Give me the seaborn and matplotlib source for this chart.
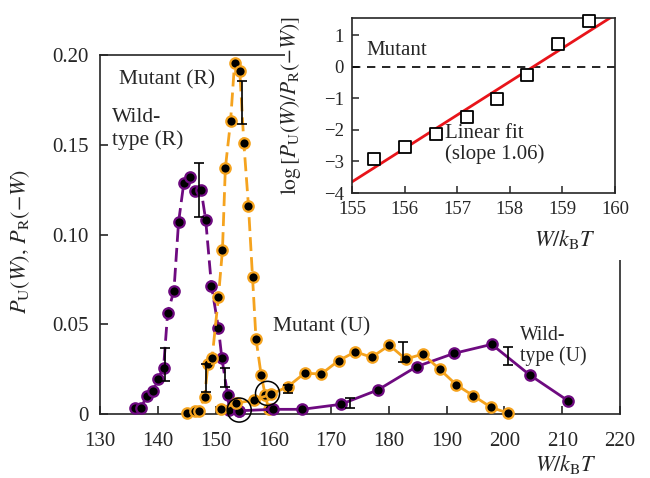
import numpy as np
import pandas as pd
import matplotlib
matplotlib.use("Agg")
import matplotlib.pyplot as plt
from matplotlib.patches import Rectangle
import seaborn as sns

# ---------------- data ----------------
wt_r_x = [136.1, 137.1, 138.1, 139.2, 140.0, 141.0, 141.7, 142.8, 143.6, 144.5, 145.6,
          146.5, 147.5, 148.3, 149.3, 150.5, 151.1, 152.1, 152.4, 154.1]
wt_r_y = [0.0032, 0.0032, 0.0102, 0.013, 0.0195, 0.0255, 0.056, 0.0687, 0.1068, 0.1285, 0.132,
          0.1242, 0.125, 0.108, 0.0713, 0.048, 0.031, 0.0105, 0.0022, 0.0018]

mut_r_x = [145.1, 146.5, 147.1, 148.1, 148.7, 149.4, 150.5, 151.2, 151.7, 152.6, 153.3,
           154.2, 154.9, 155.7, 156.4, 157.0, 157.9, 158.6, 159.2]
mut_r_y = [0.0004, 0.0017, 0.0017, 0.0093, 0.028, 0.031, 0.065, 0.0914, 0.137, 0.163, 0.1957,
           0.191, 0.151, 0.116, 0.0765, 0.042, 0.0217, 0.0106, 0.0026]

mut_u_x = [150.9, 153.5, 156.7, 159.6, 162.5, 165.4, 168.3, 171.3, 174.2, 177.0, 180.1,
           182.9, 185.9, 188.8, 191.7, 194.6, 197.7, 200.7]
mut_u_y = [0.0026, 0.006, 0.0078, 0.011, 0.0152, 0.0227, 0.0223, 0.0297, 0.0347, 0.0316, 0.0383,
           0.0306, 0.0334, 0.0249, 0.0162, 0.0102, 0.0037, 0.0004]

wt_u_x = [154.1, 159.9, 165.0, 171.7, 178.1, 184.8, 191.3, 197.8, 204.4, 211.0]
wt_u_y = [0.0018, 0.0026, 0.0026, 0.0054, 0.0134, 0.0264, 0.0338, 0.0388, 0.0217, 0.0074]

err_x = [141.2, 147.1, 148.4, 151.6, 154.5, 162.6, 173.2, 182.4, 200.6]
err_lo = [0.0186, 0.110, 0.0124, 0.0152, 0.1616, 0.0115, 0.0035, 0.0291, 0.0272]
err_hi = [0.0366, 0.140, 0.0279, 0.0255, 0.1857, 0.0162, 0.0091, 0.0403, 0.0375]

circle_x = [154.1, 159.0]
circle_y = [0.0022, 0.0115]

inset_x = [155.41, 156.0, 156.59, 157.18, 157.75, 158.33, 158.92, 159.51]
inset_y = [-2.93, -2.54, -2.12, -1.59, -1.01, -0.25, 0.74, 1.45]
fit_slope = 1.06
fit_x0 = 158.44
fit_range = [155.0, 160.0]

main_xticks = [130, 140, 150, 160, 170, 180, 190, 200, 210, 220]
main_yticks = [0, 0.05, 0.10, 0.15, 0.20]
main_yticklabels = ["0", "0.05", "0.10", "0.15", "0.20"]
inset_xticks = [155, 156, 157, 158, 159, 160]
inset_yticks = [1, 0, -1, -2, -3, -4]
inset_yticklabels = ['1', '0', '\u22121', '\u22122', '\u22123', '\u22124']

# ---------------- style ----------------
sns.set_theme(style="ticks")
plt.rcParams['font.family'] = ['Liberation Serif', 'DejaVu Serif']
plt.rcParams['mathtext.fontset'] = 'stix'
plt.rcParams['axes.linewidth'] = 1.2

PURPLE = '#6E0A80'
ORANGE = '#F5A31E'
RED = '#E8141A'

fig = plt.figure(figsize=(6.5, 4.78), dpi=100)
ax = fig.add_axes([0.1538, 0.1339, 0.80, 0.751])
ax.set_zorder(0)

def series(x, y, color, ls):
    df = pd.DataFrame({'W': x, 'P': y})
    sns.lineplot(data=df, x='W', y='P', ax=ax, color=color, linestyle=ls, lw=2.0,
                 marker='o', markersize=7.5, markerfacecolor='black',
                 markeredgecolor=color, markeredgewidth=1.6, sort=False,
                 clip_on=False, zorder=3)

dash = (0, (5, 2.2))
series(wt_r_x, wt_r_y, PURPLE, dash)
series(mut_r_x, mut_r_y, ORANGE, dash)
series(wt_u_x, wt_u_y, PURPLE, '-')
series(mut_u_x, mut_u_y, ORANGE, '-')

err_c = [(lo + hi) / 2 for lo, hi in zip(err_lo, err_hi)]
err_h = [(hi - lo) / 2 for lo, hi in zip(err_lo, err_hi)]
ax.errorbar(err_x, err_c, yerr=err_h, fmt='none', ecolor='black', elinewidth=1.2,
            capsize=3.5, capthick=1.2, zorder=4)

ax.scatter(circle_x, circle_y, s=300, facecolors='none', edgecolors='black',
           linewidths=1.1, zorder=5, clip_on=False)

ax.set_xlim(130, 220)
ax.set_ylim(0, 0.20)
ax.set_xticks(main_xticks)
ax.set_yticks(main_yticks)
ax.set_yticklabels(main_yticklabels)
ax.tick_params(direction='in', length=6, width=1.2, labelsize=15)
ax.tick_params(axis='x', pad=13)
ax.tick_params(axis='y', pad=8)
ax.set_xlabel(r'$W/k_\mathrm{B}T$', fontsize=16, ha='right')
ax.xaxis.set_label_coords(0.956, -0.11)
ax.set_ylabel(r'$P_\mathrm{U}(W),\,P_\mathrm{R}(-W)$', fontsize=16)
ax.yaxis.set_label_coords(-0.13, 0.48)

ax.text(133.3, 0.186, 'Mutant (R)', fontsize=15.5, va='center', ha='left')
ax.text(132.0, 0.1705, 'Wild-\ntype (R)', fontsize=15.5, va='top', ha='left', linespacing=1.2)
ax.text(160.0, 0.0485, 'Mutant (U)', fontsize=15.5, va='center', ha='left')
ax.text(202.7, 0.049, 'Wild-\ntype (U)', fontsize=14.2, va='top', ha='left', linespacing=1.1)

# white panel behind the inset (covers part of the main frame)
fig.add_artist(Rectangle((0.4385, 0.456), 0.5615, 0.544, transform=fig.transFigure,
                         facecolor='white', edgecolor='none', zorder=1))

# ---------------- inset ----------------
ins = fig.add_axes([0.5415, 0.5962, 0.4046, 0.366])
ins.set_facecolor('white')
ins.set_zorder(10)
fx = np.array(fit_range)
ins.plot(fx, fit_slope * (fx - fit_x0), color=RED, lw=2.0, zorder=2)
ins.axhline(0, color='black', lw=1.2, linestyle=(0, (5, 4)), zorder=1)
sns.scatterplot(x=inset_x, y=inset_y, ax=ins, marker='s', s=85, facecolor='white',
                edgecolor='black', linewidth=1.3, zorder=3, clip_on=False)
ins.set_xlim(155, 160)
ins.set_ylim(-4, 1.55)
ins.set_xticks(inset_xticks)
ins.set_yticks(inset_yticks)
ins.set_yticklabels(inset_yticklabels)
ins.tick_params(direction='in', length=5, width=1.1, labelsize=13.5, pad=6)
ins.set_xlabel(r'$W/k_\mathrm{B}T$', fontsize=16, ha='right')
ins.xaxis.set_label_coords(0.93, -0.20)
ins.set_ylabel(r'$\log\left[P_\mathrm{U}(W)/P_\mathrm{R}(-W)\right]$', fontsize=15.5)
ins.yaxis.set_label_coords(-0.185, 0.5)
ins.text(155.27, 0.52, 'Mutant', fontsize=15, va='center', ha='left')
ins.text(156.77, -2.45, 'Linear fit\n(slope 1.06)', fontsize=15, va='center', ha='left',
         linespacing=1.1)

fig.savefig('out.png', dpi=100)
